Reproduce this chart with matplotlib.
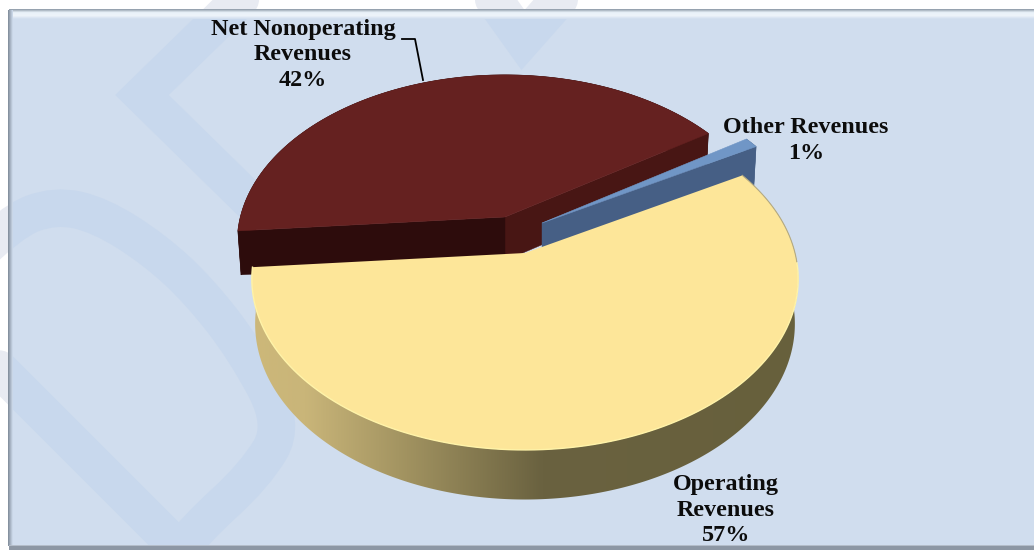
import numpy as np
import matplotlib
matplotlib.use("Agg")
import matplotlib.pyplot as plt
from matplotlib.colors import LinearSegmentedColormap
from matplotlib.patches import Rectangle, Polygon, PathPatch
from matplotlib.path import Path

# revenue shares, percent
names = ["Operating\nRevenues", "Net Nonoperating\nRevenues", "Other Revenues"]
shares = [57, 42, 1]

label_pos = [(726, 510), (303, 55), (806, 140.5)]
top_colors = ["#fde699", "#652120", "#7096c6"]
cut_colors = ["#fde699", "#2d0c0c", "#465f85"]
side_colors = ["#67603c", "#2d0c0c", "#465f85"]
offsets = [(525, 253, 1.0), (505, 217, 0.98), (542, 223, 0.985)]

W, H = 1034, 550
PANEL = "#d0ddee"
BAND = "#c8d8ed"
HATCH = "#e8ebf2"
start = 30.0

# perspective used for the tilted disc
A, B, K = 167.0, 270.0, 0.152
DEPTH, DZ = 45.0, 0.012


def project(ang, center, z=0.0):
    cx, cy, s = center
    t = np.radians(ang)
    u, v = np.cos(t), -np.sin(t)
    d = 1 - K * v + DZ * z
    return cx + s * B * u / d, cy + s * (A * v + DEPTH * z) / d


def vertex(center, z=0.0):
    cx, cy, s = center
    return cx, cy + s * DEPTH * z / (1 + DZ * z)


def quad(ax, a, c, color, zorder, z=1.0):
    px0, py0 = project(a, c)
    px1, py1 = project(a, c, z)
    ax.fill([vertex(c)[0], px0, px1, vertex(c, z)[0]],
            [vertex(c)[1], py0, py1, vertex(c, z)[1]],
            color=color, lw=0.3, zorder=zorder)


def smooth_path(pts):
    # quadratic segments through the midpoints, pts act as control points
    verts = [pts[0]]
    codes = [Path.MOVETO]
    for i in range(1, len(pts) - 1):
        mid = ((pts[i][0] + pts[i + 1][0]) / 2, (pts[i][1] + pts[i + 1][1]) / 2)
        verts += [pts[i], mid]
        codes += [Path.CURVE3, Path.CURVE3]
    verts.append(pts[-1])
    codes.append(Path.LINETO)
    return Path(verts, codes)


fig = plt.figure(figsize=(W / 100, H / 100), dpi=100)
ax = fig.add_axes([0, 0, 1, 1])
ax.set_xlim(0, W)
ax.set_ylim(H, 0)
ax.axis("off")

# background marks behind the chart
curve = [(-30, 262), (10, 222), (55, 205), (100, 215), (155, 250), (200, 292), (245, 350), (285, 425),
         (255, 475), (195, 530), (170, 565)]
diag = [(-30, 340), (200, 570)]
chevron = [(265, -25), (142, 95), (300, 250)]
vee = [(480, -20), (523, 40), (585, -30)]
blob = [(725, -40), (725, -14)]
straight = [diag, chevron, vee, blob]


def draw_bands(color, zorder, clip=None):
    art = [PathPatch(smooth_path(curve), fc="none", ec=color, lw=27, capstyle="butt", zorder=zorder)]
    art[0] = ax.add_patch(art[0])
    for b in straight:
        xs, ys = zip(*b)
        line, = ax.plot(xs, ys, color=color, lw=27, solid_joinstyle="miter", solid_capstyle="round", zorder=zorder)
        art.append(line)
    if clip is not None:
        for a in art:
            a.set_clip_path(clip)


draw_bands(HATCH, 1)
panel = Rectangle((9, 9), W - 9, 537, fc=PANEL, ec="none", zorder=2)
ax.add_patch(panel)
draw_bands(BAND, 3, panel)

# bevelled frame
frame_cm = LinearSegmentedColormap.from_list("frame", ["#8a96a4", "#e9f1f9", "#eef4fa", PANEL])
ax.imshow(np.linspace(0, 1, 64).reshape(-1, 1), extent=(9, W, 19, 9), cmap=frame_cm, aspect="auto", zorder=4)
left_cm = LinearSegmentedColormap.from_list("left", ["#7f8b99", "#a9b5c4", PANEL])
ax.imshow(np.linspace(0, 1, 16).reshape(1, -1), extent=(8, 13, 546, 10), cmap=left_cm, aspect="auto", zorder=4)
ax.add_patch(Rectangle((9, 546), W, 4, fc="#8d97a4", ec="none", zorder=4))
ax.add_patch(Rectangle((9, 544.5), W, 1.6, fc="#b4bdc9", ec="none", zorder=4))

# slices run clockwise from the start angle
angles = np.cumsum([0] + [p * 3.6 for p in shares])
spans = [(start - angles[i], start - angles[i + 1]) for i in range(len(shares))]


def arc(span, c, z=0.0, n=200):
    a = np.linspace(span[0], span[1], n)
    return project(a, c, z)


# net nonoperating slice, further back
s, c = spans[1], offsets[1]
x0, y0 = arc(s, c)
x1, y1 = arc(s, c, 1.0)
ax.fill(np.r_[x0, x1[::-1]], np.r_[y0, y1[::-1]], color=side_colors[1], lw=0.5, zorder=5)
quad(ax, s[1], c, "#481614", 5)
quad(ax, s[0], c, cut_colors[1], 5)
ax.fill(np.r_[c[0], x0], np.r_[c[1], y0], color=top_colors[1], lw=0.4, zorder=6)

# other revenues sliver
s, c = spans[2], offsets[2]
x0, y0 = arc(s, c, n=20)
x1, y1 = arc(s, c, 1.0, n=20)
ax.fill(np.r_[x0, x1[::-1]], np.r_[y0, y1[::-1]], color=side_colors[2], lw=0.4, zorder=7)
quad(ax, s[1], c, side_colors[2], 7)
ax.fill(np.r_[c[0], x0], np.r_[c[1], y0], color=top_colors[2], lw=0.4, zorder=8)

# operating slice, shaded rim then flat top
s, c = spans[0], offsets[0]
x0, y0 = arc(s, c, n=400)
x1, y1 = arc(s, c, 1.0, n=400)
rim = Polygon(np.c_[np.r_[x0, x1[::-1]], np.r_[y0, y1[::-1]]], closed=True, fc="none", ec="none", zorder=9)
ax.add_patch(rim)
rim_cm = LinearSegmentedColormap.from_list("rim", [(0, "#cdb879"), (0.1, "#c9b579"), (0.27, "#a49562"),
                                                    (0.53, "#6a6240"), (1, "#67603c")])
grad = ax.imshow(np.linspace(0, 1, 256).reshape(1, -1), extent=(250, 800, 520, 170), cmap=rim_cm,
                 aspect="auto", zorder=9)
grad.set_clip_path(rim)
ax.fill(np.r_[c[0], x0], np.r_[c[1], y0], color=top_colors[0], lw=0, zorder=10)
keep = y0 > 262
ax.plot(x0[keep], y0[keep], color="#fff3a8", lw=1.0, zorder=11)
keep = (y0 < 262) & (x0 > 600)
ax.plot(x0[keep], y0[keep], color="#b5ab84", lw=0.8, zorder=11)

ax.set_xlim(0, W)
ax.set_ylim(H, 0)

# labels
for name, p, pos in zip(names, shares, label_pos):
    ax.text(pos[0], pos[1], "{}\n{}%".format(name, p), ha="center", va="center", family="Liberation Serif",
            weight="bold", fontsize=17.4, color="#0c0c0c", linespacing=1.3, zorder=13)

ax.plot([402, 415, 423], [39, 39, 80], color="black", lw=1.3, zorder=12)

fig.savefig("out.png", dpi=100)
